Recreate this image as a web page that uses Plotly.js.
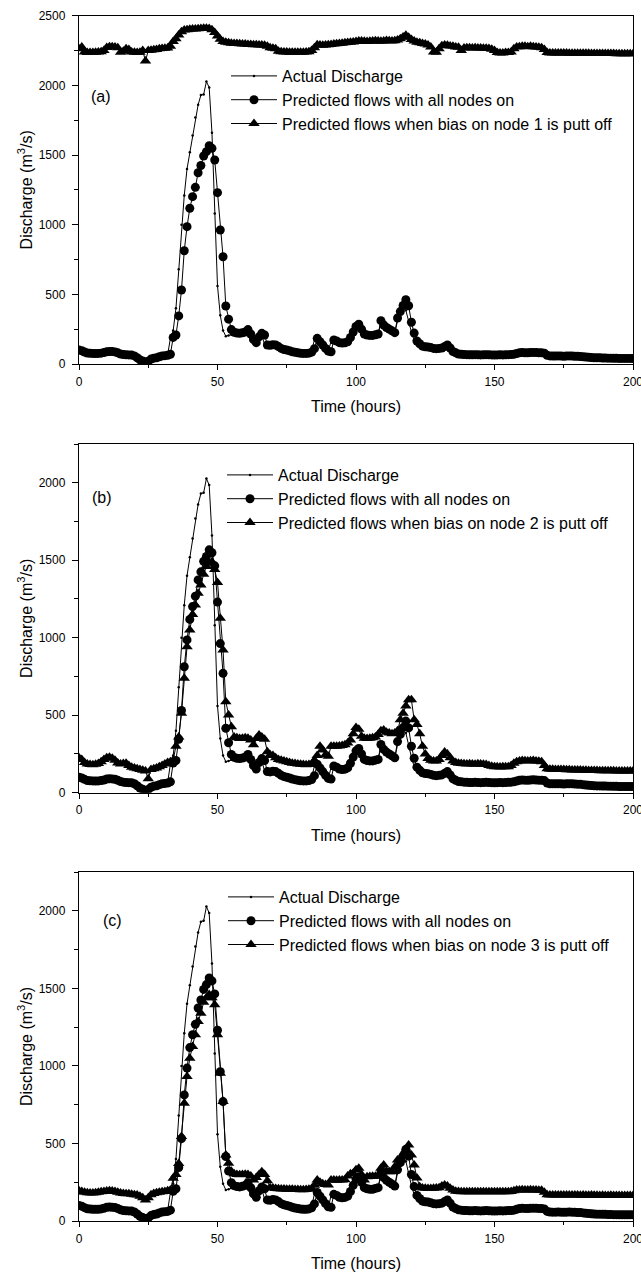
<!DOCTYPE html>
<html>
<head>
<meta charset="utf-8">
<script src="https://cdn.plot.ly/plotly-3.0.1.min.js"></script>
<style>html,body{margin:0;padding:0;background:#fff;}#chart{width:641px;height:1278px;}</style>
</head>
<body>
<div id="chart"></div>
<script>
// Actual discharge (m3/s), hourly from t = 0 to 200
const actualDischarge = [
 100, 93, 84, 78, 76, 75, 75, 77, 80, 86,
 89, 90, 88, 84, 76, 70, 67, 65, 64, 62,
 50, 36, 24, 17, 16, 28, 38, 43, 48, 55,
 59, 61, 66, 185, 240, 400, 680, 1000, 1210, 1400,
 1520, 1640, 1770, 1860, 1930, 1935, 2027, 1985, 1660, 1080,
 560, 350, 240, 200, 205, 212, 218, 220, 222, 228,
 245, 210, 168, 150, 190, 216, 205, 140, 132, 135,
 135, 128, 116, 106, 101, 97, 90, 85, 81, 78,
 76, 75, 77, 80, 95, 175, 165, 140, 115, 95,
 88, 165, 168, 155, 150, 150, 155, 180, 220, 245,
 275, 255, 220, 210, 205, 203, 207, 212, 225, 285,
 275, 258, 242, 228, 222, 310, 360, 395, 385, 300,
 230, 170, 145, 128, 122, 120, 115, 110, 110, 111,
 113, 122, 133, 120, 95, 82, 74, 70, 68, 67,
 66, 66, 66, 66, 65, 66, 67, 66, 65, 64,
 65, 66, 65, 66, 67, 68, 70, 74, 79, 81,
 81, 80, 81, 83, 82, 81, 80, 78, 63, 58,
 57, 57, 58, 57, 56, 57, 58, 57, 56, 55,
 54, 52, 50, 48, 46, 45, 44, 44, 43, 43,
 42, 42, 41, 41, 40, 40, 40, 40, 40, 40,
 40
];
// Predicted flows with all nodes on
const predictedAllNodes = [
 100, 95, 86, 79, 77, 76, 75, 76, 78, 82,
 88, 90, 89, 87, 80, 72, 68, 66, 65, 64,
 58, 45, 30, 22, 15, 20, 35, 42, 45, 52,
 58, 60, 62, 70, 191, 208, 345, 531, 813, 986,
 1118, 1201, 1268, 1373, 1425, 1493, 1524, 1567, 1548, 1464,
 1230, 962, 770, 416, 322, 247, 228, 222, 220, 224,
 230, 247, 215, 175, 153, 195, 220, 208, 136, 134,
 138, 136, 125, 112, 104, 100, 95, 88, 84, 80,
 77, 76, 76, 78, 85, 110, 184, 160, 136, 112,
 92, 88, 172, 165, 153, 150, 152, 160, 190, 230,
 270, 285, 250, 215, 208, 205, 205, 210, 215, 311,
 280, 262, 250, 238, 225, 330, 376, 420, 462, 418,
 300, 222, 165, 145, 128, 124, 122, 118, 112, 110,
 112, 115, 125, 136, 115, 90, 80, 72, 70, 68,
 67, 66, 66, 67, 66, 65, 66, 67, 66, 65,
 64, 65, 66, 65, 66, 67, 68, 70, 75, 80,
 82, 81, 80, 82, 83, 82, 81, 80, 78, 62,
 58, 57, 57, 58, 57, 56, 57, 58, 57, 56,
 55, 54, 52, 50, 48, 46, 45, 44, 44, 43,
 43, 42, 42, 41, 41, 40, 40, 40, 40, 40,
 40
];
// Predicted flows when bias on node 1 is put off
const biasNode1Off = [
 2262, 2275, 2240, 2235, 2235, 2235, 2237, 2240, 2242, 2250,
 2272, 2278, 2278, 2276, 2270, 2237, 2245, 2262, 2258, 2240,
 2237, 2236, 2238, 2250, 2175, 2250, 2252, 2255, 2258, 2262,
 2264, 2266, 2268, 2280, 2314, 2335, 2362, 2385, 2398, 2400,
 2402, 2404, 2405, 2406, 2408, 2410, 2410, 2408, 2400, 2380,
 2355, 2331, 2315, 2310, 2305, 2302, 2300, 2300, 2298, 2296,
 2296, 2294, 2293, 2292, 2292, 2290, 2290, 2288, 2280, 2270,
 2266, 2262, 2245, 2242, 2240, 2240, 2238, 2238, 2238, 2238,
 2238, 2238, 2240, 2242, 2250, 2270, 2292, 2290, 2288, 2290,
 2292, 2294, 2296, 2298, 2300, 2302, 2305, 2308, 2310, 2312,
 2315, 2318, 2318, 2316, 2315, 2316, 2318, 2320, 2318, 2316,
 2318, 2322, 2320, 2318, 2320, 2325, 2335, 2348, 2360, 2345,
 2330, 2318, 2310, 2305, 2300, 2296, 2290, 2275, 2240, 2238,
 2262, 2285, 2290, 2288, 2282, 2280, 2276, 2274, 2250, 2268,
 2270, 2270, 2268, 2270, 2268, 2268, 2266, 2266, 2265, 2260,
 2250, 2235, 2233, 2233, 2235, 2236, 2240, 2262, 2275, 2278,
 2280, 2280, 2278, 2280, 2278, 2276, 2274, 2270, 2258, 2236,
 2233, 2233, 2233, 2232, 2232, 2232, 2232, 2231, 2231, 2231,
 2231, 2230, 2230, 2230, 2230, 2229, 2229, 2229, 2229, 2228,
 2228, 2228, 2228, 2228, 2227, 2227, 2227, 2227, 2226, 2226,
 2226
];
// Predicted flows when bias on node 2 is put off
const biasNode2Off = [
 225, 215, 195, 185, 182, 180, 183, 188, 200, 215,
 225, 228, 222, 210, 192, 185, 188, 190, 175, 165,
 160, 155, 150, 145, 140, 90, 150, 155, 160, 168,
 175, 185, 195, 200, 210, 300, 360, 512, 738, 942,
 1050, 1150, 1211, 1287, 1340, 1410, 1460, 1480, 1490, 1440,
 1357, 1125, 921, 587, 501, 426, 360, 355, 350, 352,
 355, 352, 340, 310, 350, 372, 360, 345, 265, 245,
 240, 225, 215, 210, 205, 200, 195, 190, 188, 185,
 183, 182, 180, 182, 185, 210, 240, 300, 275, 245,
 235, 300, 300, 300, 302, 305, 310, 320, 340, 380,
 420, 410, 365, 352, 350, 352, 355, 360, 375, 400,
 405, 390, 385, 380, 385, 400, 470, 512, 560, 600,
 600, 470, 440, 380, 300, 250, 220, 210, 205, 205,
 215, 240, 262, 250, 225, 205, 195, 190, 188, 186,
 185, 186, 185, 184, 186, 185, 184, 182, 175, 170,
 168, 167, 166, 168, 167, 168, 175, 190, 200, 205,
 207, 206, 205, 206, 207, 205, 203, 200, 175, 155,
 152, 151, 150, 150, 149, 149, 148, 148, 147, 147,
 146, 146, 145, 145, 144, 144, 143, 143, 142, 142,
 142, 141, 141, 141, 140, 140, 140, 140, 140, 140,
 140
];
// Predicted flows when bias on node 3 is put off
const biasNode3Off = [
 195, 190, 185, 182, 180, 180, 182, 185, 188, 190,
 193, 195, 194, 190, 185, 180, 178, 176, 175, 172,
 170, 168, 160, 150, 135, 150, 170, 178, 182, 185,
 188, 190, 195, 200, 275, 300, 370, 544, 759, 931,
 1050, 1125, 1200, 1286, 1340, 1410, 1440, 1460, 1440, 1394,
 1200, 953, 770, 426, 372, 320, 305, 300, 298, 300,
 302, 300, 290, 265, 280, 300, 318, 300, 260, 215,
 212, 210, 208, 207, 206, 205, 204, 204, 203, 203,
 202, 202, 203, 205, 210, 230, 265, 250, 240, 235,
 232, 265, 265, 262, 264, 265, 266, 290, 305, 308,
 330, 340, 300, 265, 285, 287, 288, 288, 290, 340,
 361, 320, 318, 318, 350, 394, 394, 430, 460, 490,
 426, 361, 277, 221, 212, 211, 210, 210, 211, 212,
 215, 225, 232, 225, 211, 200, 192, 190, 189, 189,
 189, 189, 188, 189, 189, 188, 189, 189, 188, 188,
 189, 188, 188, 189, 188, 188, 190, 195, 200, 200,
 201, 200, 200, 201, 200, 200, 199, 198, 185, 170,
 168, 168, 168, 167, 168, 168, 167, 167, 168, 167,
 167, 166, 167, 166, 166, 167, 166, 166, 165, 166,
 165, 165, 166, 165, 165, 164, 165, 165, 164, 164,
 164
];
const hours = actualDischarge.map((_, i) => i);

const legendNames = {
  actual: 'Actual Discharge',
  all: 'Predicted flows with all nodes on',
  off: ['Predicted flows when bias on node 1 is putt off',
        'Predicted flows when bias on node 2 is putt off',
        'Predicted flows when bias on node 3 is putt off']
};
const panelLabels = ['(a)', '(b)', '(c)'];
const offSeries = [biasNode1Off, biasNode2Off, biasNode3Off];

const FONT = 'Liberation Sans, Arial, Helvetica, sans-serif';
const traces = [];
for (let p = 0; p < 3; p++) {
  const xa = p === 0 ? 'x' : 'x' + (p + 1);
  const ya = p === 0 ? 'y' : 'y' + (p + 1);
  const lg = p === 0 ? 'legend' : 'legend' + (p + 1);
  traces.push({x: hours, y: actualDischarge, name: legendNames.actual, mode: 'lines+markers',
    line: {color: '#000', width: 1}, marker: {size: 2.5, color: '#000'},
    xaxis: xa, yaxis: ya, legend: lg, hoverinfo: 'skip'});
  traces.push({x: hours, y: predictedAllNodes, name: legendNames.all, mode: 'lines+markers',
    line: {color: '#000', width: 1}, marker: {symbol: 'circle', size: 9, color: '#000'},
    xaxis: xa, yaxis: ya, legend: lg, hoverinfo: 'skip'});
  traces.push({x: hours, y: offSeries[p], name: legendNames.off[p], mode: 'lines+markers',
    line: {color: '#000', width: 1}, marker: {symbol: 'triangle-up', size: 10, color: '#000'},
    xaxis: xa, yaxis: ya, legend: lg, hoverinfo: 'skip'});
}

function xAxis(anchor) {
  return {
    anchor: anchor, domain: [0, 1], range: [0, 200], tick0: 0, dtick: 50,
    ticks: 'outside', ticklen: 5, tickwidth: 1, tickcolor: '#000',
    minor: {dtick: 25, ticks: 'outside', ticklen: 3, tickwidth: 1, tickcolor: '#000', showgrid: false},
    showline: true, linecolor: '#000', linewidth: 1.2, mirror: true,
    showgrid: false, zeroline: false, tickfont: {size: 12, family: FONT, color: '#000'},
    ticklabelstandoff: 1, ticklabeloverflow: 'allow',
    title: {text: 'Time (hours)', font: {size: 16, family: FONT, color: '#000'}, standoff: 13}
  };
}
function yAxis(anchor, domain, top) {
  return {
    anchor: anchor, domain: domain, range: [0, top], tick0: 0, dtick: 500,
    ticks: 'outside', ticklen: 6, tickwidth: 1, tickcolor: '#000',
    minor: {dtick: 250, ticks: 'outside', ticklen: 4, tickwidth: 1, tickcolor: '#000', showgrid: false},
    showline: true, linecolor: '#000', linewidth: 1.2, mirror: true,
    showgrid: false, zeroline: false, tickfont: {size: 12, family: FONT, color: '#000'},
    ticklabelstandoff: 4,
    title: {text: 'Discharge (m<sup>3</sup>/s)', font: {size: 16, family: FONT, color: '#000'}, standoff: 2}
  };
}
function legendAt(xp, yp) {
  return {x: xp, y: yp, xanchor: 'left', yanchor: 'top', bgcolor: 'rgba(0,0,0,0)',
    borderwidth: 0, font: {size: 16, family: FONT, color: '#000'}, itemwidth: 46,
    tracegroupgap: 0, itemclick: false, itemdoubleclick: false};
}

const H = 1278;
const layout = {
  width: 641, height: H,
  margin: {l: 79, r: 8, t: 0, b: 0},
  paper_bgcolor: '#fff', plot_bgcolor: '#fff',
  font: {family: FONT, color: '#000'},
  showlegend: true,
  xaxis: xAxis('y'),
  yaxis: yAxis('x', [1 - 364 / H, 1 - 15.7 / H], 2500),
  xaxis2: xAxis('y2'),
  yaxis2: yAxis('x2', [1 - 792.7 / H, 1 - 444 / H], 2250),
  xaxis3: xAxis('y3'),
  yaxis3: yAxis('x3', [1 - 1221 / H, 1 - 872 / H], 2250),
  legend: legendAt((226 - 79) / 554, 1 - 59 / H),
  legend2: legendAt((222 - 79) / 554, 1 - 458 / H),
  legend3: legendAt((223 - 79) / 554, 1 - 880 / H),
  annotations: [
    {text: panelLabels[0], xref: 'x domain', yref: 'y domain', x: 0.018, y: 0.769, xanchor: 'left', yanchor: 'middle', showarrow: false, font: {size: 16, family: FONT, color: '#000'}},
    {text: panelLabels[1], xref: 'x2 domain', yref: 'y2 domain', x: 0.02, y: 0.848, xanchor: 'left', yanchor: 'middle', showarrow: false, font: {size: 16, family: FONT, color: '#000'}},
    {text: panelLabels[2], xref: 'x3 domain', yref: 'y3 domain', x: 0.04, y: 0.86, xanchor: 'left', yanchor: 'middle', showarrow: false, font: {size: 16, family: FONT, color: '#000'}}
  ]
};

Plotly.newPlot('chart', traces, layout, {staticPlot: true, displayModeBar: false});
</script>
</body>
</html>
